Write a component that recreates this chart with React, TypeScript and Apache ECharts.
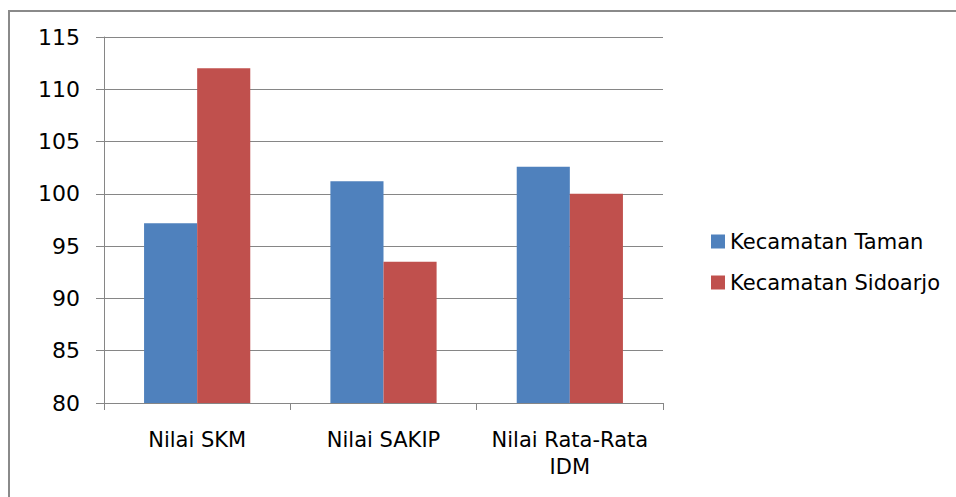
import React, { useEffect, useRef } from "react";
import * as echarts from "echarts";

const categories = ["Nilai SKM", "Nilai SAKIP", "Nilai Rata-Rata\nIDM"];
const seriesNames = ["Kecamatan Taman", "Kecamatan Sidoarjo"];
const tamanValues = [97.2, 101.2, 102.6];
const sidoarjoValues = [112, 93.5, 100];
const yMin = 80;
const yMax = 115;
const yInterval = 5;

const FONT = "'DejaVu Sans', sans-serif";

export default function App() {
  const ref = useRef<HTMLDivElement>(null);
  useEffect(() => {
    document.body.style.margin = "0";
    const chart = echarts.init(ref.current!, null, { renderer: "svg" });
    chart.setOption({
      animation: false,
      backgroundColor: "#ffffff",
      textStyle: { fontFamily: FONT },
      graphic: [
        {
          type: "rect",
          shape: { x: 9, y: 11, width: 1000, height: 600 },
          style: { fill: "none", stroke: "#8a8a8a", lineWidth: 2 },
          silent: true,
        },
      ],
      grid: { left: 104, right: 293, top: 37, bottom: 94 },
      legend: {
        orient: "vertical",
        left: 706,
        top: 226,
        itemWidth: 14,
        itemHeight: 14,
        itemGap: 20,
        icon: "rect",
        textStyle: { fontSize: 21, color: "#000", fontFamily: FONT },
        data: seriesNames,
      },
      xAxis: {
        type: "category",
        data: categories,
        axisLine: { lineStyle: { color: "#868686", width: 1 } },
        axisTick: { show: true, length: 7, alignWithLabel: false, lineStyle: { color: "#868686" } },
        axisLabel: {
          color: "#000",
          fontSize: 21,
          margin: 23,
          lineHeight: 27,
          interval: 0,
          hideOverlap: false,
          fontFamily: FONT,
        },
      },
      yAxis: {
        type: "value",
        min: yMin,
        max: yMax,
        interval: yInterval,
        axisLine: { show: true, lineStyle: { color: "#868686", width: 1 } },
        axisTick: { show: true, length: 8, lineStyle: { color: "#868686" } },
        axisLabel: { color: "#000", fontSize: 22, margin: 24, fontFamily: FONT },
        splitLine: { lineStyle: { color: "#868686", width: 1 } },
      },
      series: [
        {
          name: seriesNames[0],
          type: "bar",
          data: tamanValues,
          itemStyle: { color: "#4F81BD" },
          barGap: "0%",
          barCategoryGap: "43%",
        },
        {
          name: seriesNames[1],
          type: "bar",
          data: sidoarjoValues,
          itemStyle: { color: "#C0504D" },
          barGap: "0%",
          barCategoryGap: "43%",
        },
      ],
    });
    return () => chart.dispose();
  }, []);
  return <div ref={ref} style={{ position: "absolute", left: 0, top: 0, width: 956, height: 497 }} />;
}
